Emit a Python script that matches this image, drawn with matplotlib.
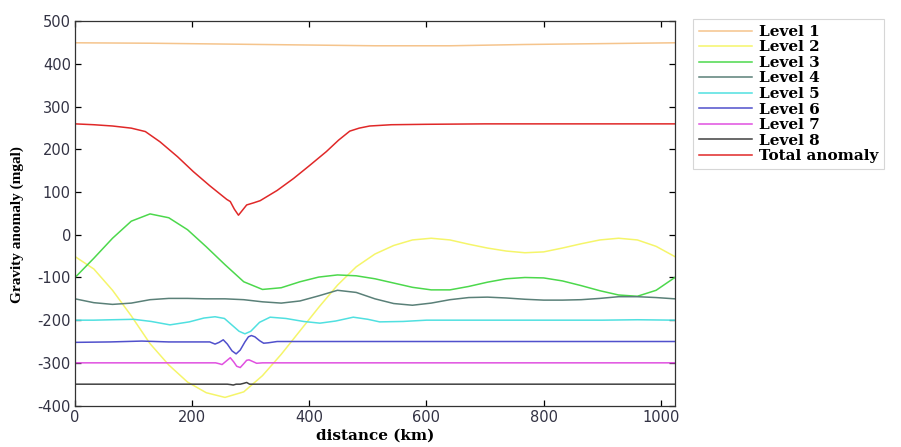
import matplotlib
matplotlib.use("Agg")
import matplotlib.pyplot as plt

plt.rcParams["axes.unicode_minus"] = False

# distance (km) / gravity anomaly (mgal)
x_l1 = [0, 128, 256, 384, 512, 640, 768, 896, 1024]
y_l1 = [450, 449, 447, 445, 443, 443, 446, 448, 450]

x_reg = [0, 32, 64, 96, 128, 160, 192, 224, 256, 288, 320, 352, 384, 416, 448, 480, 512,
         544, 576, 608, 640, 672, 704, 736, 768, 800, 832, 864, 896, 928, 960, 992, 1024]
y_l2 = [-51, -80, -130, -190, -255, -305, -345, -370, -381, -368, -330, -280, -225, -170, -118, -75, -45,
        -25, -12, -8, -12, -22, -31, -38, -42, -40, -31, -21, -12, -8, -12, -27, -51]
y_l3 = [-100, -55, -8, 32, 49, 40, 12, -28, -70, -110, -128, -124, -110, -99, -94, -96, -103,
        -113, -123, -129, -129, -121, -111, -103, -100, -101, -108, -119, -131, -141, -144, -130, -100]
y_l4 = [-150, -159, -163, -160, -152, -149, -149, -150, -150, -152, -157, -160, -155, -143, -130, -135, -150,
        -161, -165, -160, -152, -147, -146, -148, -151, -153, -153, -152, -149, -145, -145, -147, -150]

x_l5 = [0, 32, 64, 100, 130, 162, 195, 220, 239, 255, 270, 280, 290, 300, 315, 333, 360, 390,
        418, 445, 475, 500, 520, 560, 600, 700, 800, 900, 960, 1024]
y_l5 = [-200, -200, -199, -198, -203, -211, -204, -195, -192, -196, -214, -226, -232, -226, -205, -193, -196, -203,
        -207, -202, -193, -198, -204, -203, -200, -200, -200, -200, -199, -200]

x_l6 = [0, 60, 114, 160, 200, 230, 239, 246, 253, 260, 268, 275, 282, 290, 296, 301, 307, 315,
        322, 330, 345, 400, 500, 1024]
y_l6 = [-252, -251, -249, -251, -251, -251, -256, -252, -246, -256, -272, -279, -270, -251, -239, -236, -239, -248,
        -254, -253, -250, -250, -250, -250]

x_l7 = [0, 240, 246, 251, 258, 265, 271, 276, 282, 288, 293, 297, 302, 310, 320, 1024]
y_l7 = [-300, -300, -302, -304, -296, -288, -298, -308, -311, -302, -294, -293, -296, -301, -300, -300]

x_l8 = [0, 260, 266, 270, 275, 282, 288, 293, 298, 305, 1024]
y_l8 = [-350, -350, -351, -352, -350, -350, -348, -346, -350, -350, -350]

x_tot = [0, 32, 64, 96, 120, 145, 175, 202, 230, 259, 265, 272, 279, 286, 293, 305, 316, 345, 373,
         400, 429, 450, 469, 485, 503, 540, 600, 700, 800, 900, 1024]
y_tot = [260, 258, 255, 250, 242, 218, 183, 148, 115, 83, 78, 60, 46, 58, 70, 75, 80, 104, 132,
         162, 195, 222, 243, 250, 255, 258, 259, 260, 260, 260, 260]

labels = ["Level 1", "Level 2", "Level 3", "Level 4", "Level 5",
          "Level 6", "Level 7", "Level 8", "Total anomaly"]
colors = ["#f5c48c", "#f5f56a", "#4cd84c", "#5a8078", "#50e0e0",
          "#5050cc", "#e050e0", "#404040", "#e02828"]

series = [(x_l1, y_l1), (x_reg, y_l2), (x_reg, y_l3), (x_reg, y_l4), (x_l5, y_l5),
          (x_l6, y_l6), (x_l7, y_l7), (x_l8, y_l8), (x_tot, y_tot)]

fig = plt.figure(figsize=(9.01, 4.47), dpi=100)
ax = fig.add_axes([0.0833, 0.0928, 0.6657, 0.8592])

for (xs, ys), lab, c in zip(series, labels, colors):
    ax.plot(xs, ys, color=c, lw=1.1, label=lab)

ax.set_xlim(0, 1024)
ax.set_ylim(-400, 500)
ax.set_xticks(range(0, 1001, 200))
ax.set_yticks(range(-400, 501, 100))
ax.tick_params(direction="in", top=True, right=True, length=4, width=0.9,
               labelsize=10.5, labelcolor="#333344", pad=3)
for lab in ax.get_xticklabels() + ax.get_yticklabels():
    lab.set_family("DejaVu Sans")
for sp in ax.spines.values():
    sp.set_linewidth(0.9)
    sp.set_color("#333333")

ax.set_xlabel("distance (km)", family="DejaVu Serif", weight="bold", fontsize=11, labelpad=3)
ax.set_ylabel("Gravity anomaly (mgal)", family="Liberation Serif", weight="bold", fontsize=11)
ax.yaxis.set_label_coords(-0.085, 0.47)

leg = ax.legend(loc="upper left", bbox_to_anchor=(0.769, 0.958), bbox_transform=fig.transFigure,
                prop={"family": "DejaVu Serif", "weight": "bold", "size": 11},
                handlelength=3.5, labelspacing=0.1, borderaxespad=0, borderpad=0.4,
                handletextpad=0.4, frameon=True, fancybox=False)
leg.get_frame().set_edgecolor("#cccccc")
leg.get_frame().set_linewidth(0.8)

fig.savefig("out.png", dpi=100)
